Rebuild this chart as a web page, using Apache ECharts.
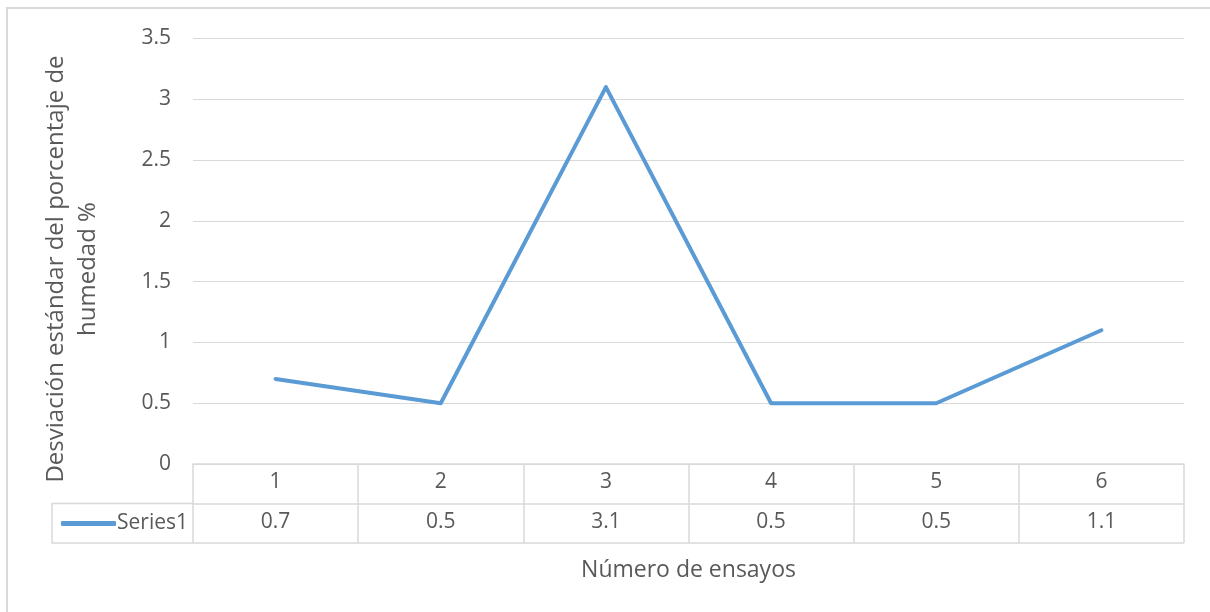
<!DOCTYPE html>
<html>
<head>
<meta charset="utf-8">
<script src="https://cdn.jsdelivr.net/npm/echarts@6/dist/echarts.min.js"></script>
<style>
  html, body { margin: 0; padding: 0; background: #fff; }
  #chart { width: 1210px; height: 612px; }
</style>
</head>
<body>
<div id="chart"></div>
<script>
// datos
const ensayos = ['1', '2', '3', '4', '5', '6'];
const series1 = [0.7, 0.5, 3.1, 0.5, 0.5, 1.1];
const yTicks = { min: 0, max: 3.5, interval: 0.5 };

const txt = '#595959';
const border = '#d9d9d9';
const font = 'Open Sans';

const gridLeft = 193, gridRight = 26, gridTop = 38.5, gridBottom = 148;
const rowH = 39.5;
const tableLeft = 52;

const chart = echarts.init(document.getElementById('chart'));

const option = {
  animation: false,
  backgroundColor: '#fff',
  textStyle: { fontFamily: font },
  grid: { left: gridLeft, right: gridRight, top: gridTop, bottom: gridBottom },
  legend: {
    left: 56,
    top: 508,
    itemWidth: 55,
    itemHeight: 5,
    itemGap: 0,
    textStyle: { color: txt, fontSize: 21, fontFamily: font, padding: [0, 0, 0, -4] },
    data: [{ name: 'Series1', icon: 'roundRect', itemStyle: { color: '#5b9bd5' } }]
  },
  xAxis: [
    {
      type: 'category',
      data: ensayos,
      boundaryGap: true,
      axisLine: { show: true, lineStyle: { color: border, width: 1.5 } },
      axisTick: { show: true, length: rowH, interval: 0, lineStyle: { color: border, width: 1.5 } },
      axisLabel: { color: txt, fontSize: 21, margin: 8, fontFamily: font },
      splitLine: { show: false }
    },
    {
      type: 'category',
      data: series1.map(v => String(v)),
      position: 'bottom',
      offset: rowH,
      boundaryGap: true,
      axisLine: { show: true, lineStyle: { color: border, width: 1.5 } },
      axisTick: { show: true, length: rowH, interval: 0, lineStyle: { color: border, width: 1.5 } },
      axisLabel: { color: txt, fontSize: 21, margin: 8, fontFamily: font },
      name: 'Número de ensayos',
      nameLocation: 'middle',
      nameGap: 55,
      nameTextStyle: { color: txt, fontSize: 23, fontFamily: font }
    }
  ],
  yAxis: {
    type: 'value',
    min: yTicks.min,
    max: yTicks.max,
    interval: yTicks.interval,
    axisLine: { show: false },
    axisTick: { show: false },
    axisLabel: { color: txt, fontSize: 21, margin: 22, fontFamily: font },
    splitLine: { lineStyle: { color: border, width: 1.2 } }
  },
  series: [
    {
      name: 'Series1',
      type: 'line',
      data: series1,
      symbol: 'none',
      color: '#5b9bd5',
      lineStyle: { color: '#5b9bd5', width: 4, join: 'round', cap: 'round' }
    }
  ],
  graphic: [
    {
      type: 'rect',
      silent: true,
      shape: { x: 7, y: 8, width: 1220, height: 640 },
      style: { fill: 'none', stroke: border, lineWidth: 2 }
    },
    {
      type: 'polyline',
      silent: true,
      shape: {
        points: [
          [gridLeft, 612 - gridBottom + rowH],
          [tableLeft, 612 - gridBottom + rowH],
          [tableLeft, 612 - gridBottom + 2 * rowH],
          [1210 - gridRight, 612 - gridBottom + 2 * rowH]
        ]
      },
      style: { fill: 'none', stroke: border, lineWidth: 1.5 }
    },
    {
      type: 'text',
      silent: true,
      x: 72,
      y: 269,
      rotation: Math.PI / 2,
      style: {
        text: 'Desviación estándar del porcentaje de\nhumedad %',
        fill: txt,
        font: '24px "Open Sans"',
        align: 'center',
        verticalAlign: 'middle',
        lineHeight: 32
      }
    }
  ]
};

chart.setOption(option);
</script>
</body>
</html>
